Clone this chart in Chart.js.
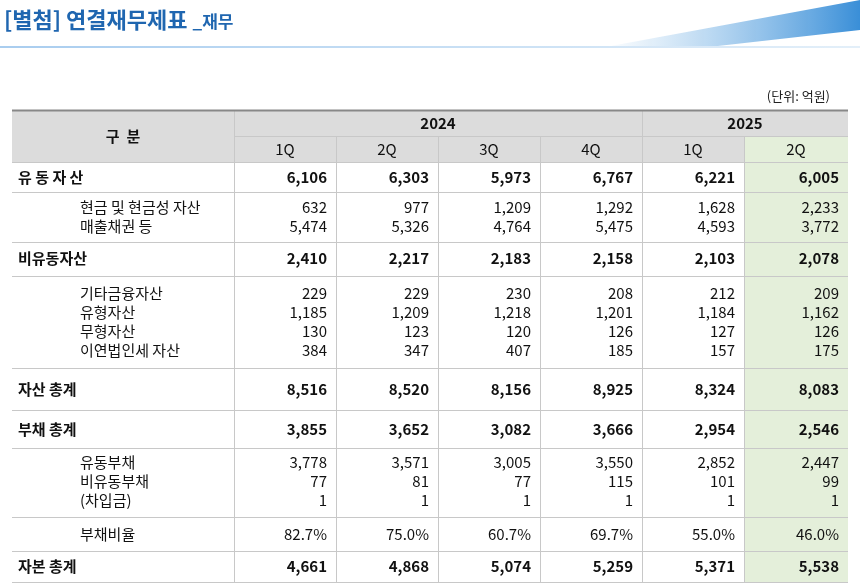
<!DOCTYPE html><html><head><meta charset="utf-8">
<script src="https://cdn.jsdelivr.net/npm/chart.js@4"></script>
<style>html,body{margin:0;padding:0;background:#fff}#w{width:860px;height:587px}</style></head><body>
<div id="w"><canvas id="c"></canvas></div>
<script>
const years = ['2024','2025'];
const quarters = ['1Q','2Q','3Q','4Q','1Q','2Q'];
const rowLabels = ['유 동 자 산','현금 및 현금성 자산','매출채권 등','비유동자산','기타금융자산','유형자산','무형자산','이연법인세 자산','자산 총계','부채 총계','유동부채','비유동부채','(차입금)','부채비율','자본 총계'];
const rowBold = [1,0,0,1,0,0,0,0,1,1,0,0,0,0,1];
const v_유동자산 = ['6,106','6,303','5,973','6,767','6,221','6,005'];
const v_현금 = ['632','977','1,209','1,292','1,628','2,233'];
const v_매출채권 = ['5,474','5,326','4,764','5,475','4,593','3,772'];
const v_비유동자산 = ['2,410','2,217','2,183','2,158','2,103','2,078'];
const v_기타금융 = ['229','229','230','208','212','209'];
const v_유형 = ['1,185','1,209','1,218','1,201','1,184','1,162'];
const v_무형 = ['130','123','120','126','127','126'];
const v_이연 = ['384','347','407','185','157','175'];
const v_자산총계 = ['8,516','8,520','8,156','8,925','8,324','8,083'];
const v_부채총계 = ['3,855','3,652','3,082','3,666','2,954','2,546'];
const v_유동부채 = ['3,778','3,571','3,005','3,550','2,852','2,447'];
const v_비유동부채 = ['77','81','77','115','101','99'];
const v_차입금 = ['1','1','1','1','1','1'];
const v_부채비율 = ['82.7%','75.0%','60.7%','69.7%','55.0%','46.0%'];
const v_자본총계 = ['4,661','4,868','5,074','5,259','5,371','5,538'];
const values = [v_유동자산,v_현금,v_매출채권,v_비유동자산,v_기타금융,v_유형,v_무형,v_이연,v_자산총계,v_부채총계,v_유동부채,v_비유동부채,v_차입금,v_부채비율,v_자본총계];

// layout (positions only)
const rowY = [177,207,226,258,293,312,331,350,389,429,462,481,500,534,566];
const bands = [[162,192],[192,242],[242,276],[276,368],[368,410],[410,448],[448,517],[517,551],[551,582]];
const colX = [234,336,438,540,642,744,848];
const F = '"Noto Sans CJK KR","Noto Sans",sans-serif';

const tablePlugin = {id:'table', afterDraw(ch){
  const c = ch.ctx, sx = ch.scales.x, sy = ch.scales.y;
  const X = v=>sx.getPixelForValue(v), Y = v=>sy.getPixelForValue(v);
  c.save();
  // title decor
  const g = c.createLinearGradient(X(600),0,X(860),0);
  g.addColorStop(0,'rgba(120,180,230,0)'); g.addColorStop(1,'#3a8fd8');
  c.fillStyle=g; c.beginPath(); c.moveTo(X(600),Y(48)); c.lineTo(X(860),Y(0)); c.lineTo(X(860),Y(30)); c.lineTo(X(700),Y(48)); c.closePath(); c.fill();
  const g2 = c.createLinearGradient(X(0),0,X(860),0);
  g2.addColorStop(0,'#a9cdef'); g2.addColorStop(1,'#e3eff9');
  c.fillStyle=g2; c.fillRect(X(0),Y(46),X(860)-X(0),2);
  c.textBaseline='middle'; c.textAlign='left';
  c.fillStyle='#1f66b0'; c.font='bold 22px '+F; c.fillText('[별첨] 연결재무제표',X(4),Y(20));
  let w=c.measureText('[별첨] 연결재무제표 ').width;
  c.font='bold 17px '+F; c.fillText('_재무',X(4)+w,Y(22));
  c.fillStyle='#222'; c.font='13px '+F; c.textAlign='right'; c.fillText('(단위: 억원)',X(830),Y(96));
  // header bg
  c.fillStyle='#dcdcdc'; c.fillRect(X(12),Y(110),X(848)-X(12),Y(162)-Y(110));
  c.fillStyle='#e4efda'; c.fillRect(X(744),Y(136),X(848)-X(744),Y(582)-Y(136));
  // lines
  c.strokeStyle='#c8c8c8'; c.lineWidth=1;
  const hl=(y,x0,x1)=>{c.beginPath();c.moveTo(X(x0),Y(y)+.5);c.lineTo(X(x1),Y(y)+.5);c.stroke();};
  const vl=(x,y0,y1)=>{c.beginPath();c.moveTo(X(x)+.5,Y(y0));c.lineTo(X(x)+.5,Y(y1));c.stroke();};
  hl(136,234,848); hl(162,12,848);
  bands.forEach(b=>hl(b[1],12,848));
  bands.forEach((b,i)=>{ if([1,3,6].includes(i)) hl(b[0],70,848);});
  hl(517,70,848);
  colX.forEach((x,i)=>{ if(i<6) vl(x, i===0||i===4?110:136, 582); });
  c.strokeStyle='#888'; c.lineWidth=2; hl(110,12,848);
  // header text
  c.fillStyle='#111'; c.font='bold 15px '+F; c.textAlign='center';
  c.fillText('구  분',X(123),Y(136));
  c.fillText(years[0],X((234+642)/2),Y(123)); c.fillText(years[1],X((642+848)/2),Y(123));
  c.font='15px '+F;
  quarters.forEach((q,i)=>c.fillText(q,X((colX[i]+colX[i+1])/2),Y(149)));
  // rows
  rowLabels.forEach((l,r)=>{
    c.font=(rowBold[r]?'bold ':'')+'15px '+F; c.textAlign='left';
    c.fillText(l,X(rowBold[r]?18:80),Y(rowY[r]));
    c.textAlign='right';
    values[r].forEach((v,i)=>c.fillText(v,X(colX[i+1]-9),Y(rowY[r])));
  });
  c.restore();
}};

new Chart(document.getElementById('c'),{type:'scatter',data:{datasets:[{data:[]}]},
 options:{responsive:true,maintainAspectRatio:false,animation:false,
  layout:{padding:0},plugins:{legend:{display:false},tooltip:{enabled:false}},
  scales:{x:{type:'linear',min:0,max:860,display:false},y:{type:'linear',min:0,max:587,reverse:true,display:false}}},
 plugins:[tablePlugin]});
</script></body></html>
